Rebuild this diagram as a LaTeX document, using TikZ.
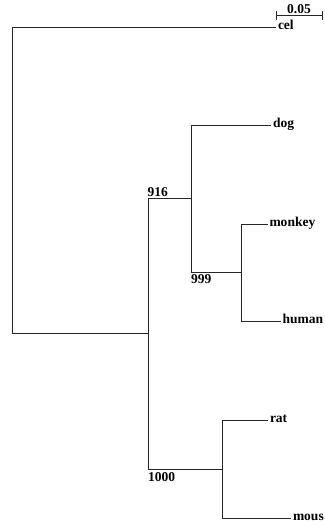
\documentclass[tikz,border=0pt]{standalone}
\usepackage{fontspec}
\setmainfont{Liberation Serif}
\begin{document}
\begin{tikzpicture}[x=1pt,y=-1pt,
  br/.style={draw=black!85,line width=0.9pt},
  leaf/.style={anchor=mid west,inner xsep=1.8pt,inner ysep=0pt,font=\fontsize{13.5}{15}\selectfont\bfseries},
  boot/.style={anchor=base west,inner sep=0pt,font=\fontsize{13.5}{15}\selectfont\bfseries}]
\useasboundingbox (0,0) rectangle (324,527);
% internal nodes
\coordinate (root) at (12,180.5);
\coordinate (n148) at (148,333.5);
\coordinate (n191) at (191,198.5);
\coordinate (n241) at (241,272.5);
\coordinate (n222) at (222,469);
% leaves
\node[leaf] (cel) at (276,27) {cel};
\node[leaf] (dog) at (271,125) {dog};
\node[leaf] (monkey) at (267.5,224) {monkey};
\node[leaf] (human) at (280.5,321) {human};
\node[leaf] (rat) at (268,420) {rat};
\node[leaf] (mous) at (291,518) {mous};
% branches
\draw[br] (root) |- (cel.mid west);
\draw[br] (root) |- (n148);
\draw[br] (n148) |- (n191);
\draw[br] (n148) |- (n222);
\draw[br] (n191) |- (dog.mid west);
\draw[br] (n191) |- (n241);
\draw[br] (n241) |- (monkey.mid west);
\draw[br] (n241) |- (human.mid west);
\draw[br] (n222) |- (rat.mid west);
\draw[br] (n222) |- (mous.mid west);
% bootstrap values
\node[boot] (b916) at (147.5,196) {916};
\node[boot] (b999) at (191,283) {999};
\node[boot] (b1000) at (148,481) {1000};
% scale bar
\coordinate (sb1) at (276,15.5);
\coordinate (sb2) at (322,15.5);
\draw[br] (sb1) -- (sb2);
\draw[br] ([yshift=-4.5pt]sb1) -- ([yshift=4pt]sb1);
\draw[br] ([yshift=-4.5pt]sb2) -- ([yshift=4pt]sb2);
\node[boot,anchor=base] (sbl) at (299,13.5) {0.05};
\end{tikzpicture}
\end{document}
